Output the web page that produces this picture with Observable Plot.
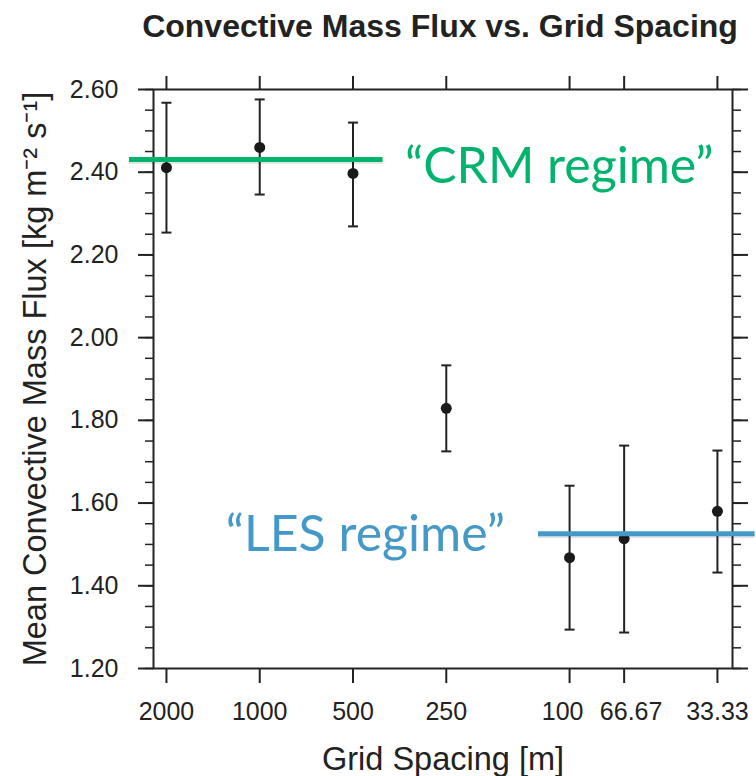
<!DOCTYPE html>
<html>
<head>
<meta charset="utf-8">
<script src="https://cdn.jsdelivr.net/npm/d3@7"></script>
<script src="https://cdn.jsdelivr.net/npm/@observablehq/plot@0.6"></script>
<style>
  html, body { margin: 0; padding: 0; background: white; overflow: hidden; }
  #wrap { width: 756px; height: 776px; position: relative; }
  #title { height: 60px; position: relative; }
  #title div { position: absolute; top: 8px; left: 124px; width: 632px; text-align: center;
    font: bold 32px "Liberation Sans", Arial, sans-serif; line-height: 36px; color: #222; white-space: nowrap; }
</style>
</head>
<body>
<div id="wrap">
  <div id="title"><div>Convective Mass Flux vs. Grid Spacing</div></div>
  <div id="chart"></div>
</div>
<script>
// ---- data ----
const gridSpacing = [2000, 1000, 500, 250, 100, 66.67, 33.33];
const gridLabels  = ["2000", "1000", "500", "250", "100", "66.67", "33.33"];
const meanFlux    = [2.411, 2.460, 2.397, 1.829, 1.468, 1.514, 1.580];
const fluxLow     = [2.254, 2.346, 2.269, 1.725, 1.294, 1.287, 1.432];
const fluxHigh    = [2.568, 2.576, 2.520, 1.933, 1.642, 1.739, 1.727];

const yMajorTicks = [1.2, 1.4, 1.6, 1.8, 2.0, 2.2, 2.4, 2.6];
const yMinorTicks = d3.range(0, 29).map(i => 1.2 + i * 0.05);

// regime annotations
const regimeNames  = ["\u201CCRM regime\u201D", "\u201CLES regime\u201D"];
const regimeFlux   = [2.431, 1.526];
const regimeFrom   = [2632, 126];
const regimeTo     = [400, 25.2];
const regimeLabelX = [340, 1287];
const regimeLabelY = [2.375, 1.485];
const regimeColors = ["#00b46e", "#4499c8"];

const points = gridSpacing.map((g, i) => ({g, label: gridLabels[i], mean: meanFlux[i], lo: fluxLow[i], hi: fluxHigh[i]}));
const regimes = regimeNames.map((n, i) => ({name: n, y: regimeFlux[i], x1: regimeFrom[i], x2: regimeTo[i], lx: regimeLabelX[i], ly: regimeLabelY[i], color: regimeColors[i]}));

const capSymbol = {draw(ctx, size) { const w = Math.sqrt(size / Math.PI); ctx.moveTo(-w, 0); ctx.lineTo(w, 0); }};
const ink = "#222";
const noLabel = () => "";
const tickText = {x: "g", text: "label", frameAnchor: "bottom", lineAnchor: "top", dy: 34, fontSize: 25, fill: ink};

const chart = Plot.plot({
  width: 756,
  height: 716,
  marginTop: 29,
  marginBottom: 108,
  marginLeft: 153,
  marginRight: 24,
  style: {fontFamily: "'Liberation Sans', Arial, sans-serif", fontSize: "25px", color: ink, background: "white"},
  x: {type: "log", domain: [2202, 29.8], axis: null},
  y: {domain: [1.2, 2.6], axis: null},
  marks: [
    // minor y ticks (both sides)
    Plot.axisY({anchor: "left", ticks: yMinorTicks, tickSize: 8, tickFormat: noLabel, label: null, stroke: ink, strokeWidth: 1.5}),
    Plot.axisY({anchor: "right", ticks: yMinorTicks, tickSize: 8, tickFormat: noLabel, label: null, stroke: ink, strokeWidth: 1.5}),
    // major y ticks
    Plot.axisY({anchor: "left", ticks: yMajorTicks, tickSize: 15, tickPadding: 20, tickFormat: d3.format(".2f"), label: null, stroke: ink, strokeWidth: 2, fontSize: 25}),
    Plot.axisY({anchor: "right", ticks: yMajorTicks, tickSize: 15, tickFormat: noLabel, label: null, stroke: ink, strokeWidth: 2}),
    // x ticks
    Plot.axisX({anchor: "bottom", ticks: gridSpacing, tickSize: 15, tickFormat: noLabel, label: null, stroke: ink, strokeWidth: 2}),
    Plot.axisX({anchor: "top", ticks: gridSpacing, tickSize: 14, tickFormat: noLabel, label: null, stroke: ink, strokeWidth: 2}),
    // x tick labels (the two crowded ones nudged apart, as in the original)
    Plot.text(points, {...tickText, filter: d => d.label !== "100" && d.label !== "66.67"}),
    Plot.text(points, {...tickText, filter: d => d.label === "100", dx: -7}),
    Plot.text(points, {...tickText, filter: d => d.label === "66.67", dx: 7}),
    Plot.frame({stroke: ink, strokeWidth: 2}),
    // axis titles
    Plot.text(["Mean Convective Mass Flux [kg m\u207B\u00B2 s\u207B\u00B9]"], {frameAnchor: "left", text: d => d, textAnchor: "middle", rotate: -90, dx: -118, fontSize: 32.5, fill: ink}),
    Plot.text(["Grid Spacing [m]"], {frameAnchor: "bottom", text: d => d, textAnchor: "middle", dy: 101, lineAnchor: "bottom", fontSize: 32.5, fill: ink}),
    // error bars
    Plot.ruleX(points, {x: "g", y1: "lo", y2: "hi", stroke: ink, strokeWidth: 2}),
    Plot.dot(points, {x: "g", y: "lo", symbol: capSymbol, r: 5, stroke: ink, strokeWidth: 2, fill: "none"}),
    Plot.dot(points, {x: "g", y: "hi", symbol: capSymbol, r: 5, stroke: ink, strokeWidth: 2, fill: "none"}),
    Plot.dot(points, {x: "g", y: "mean", r: 5.5, fill: "#1a1a1a", stroke: "none"}),
    // regime lines with soft shadow
    Plot.ruleY(regimes, {y: "y", x1: "x1", x2: "x2", stroke: "#000", strokeOpacity: 0.1, strokeWidth: 5, dy: 2}),
    Plot.ruleY(regimes, {y: "y", x1: "x1", x2: "x2", stroke: "color", strokeWidth: 5}),
    Plot.text(regimes, {x: "lx", y: "ly", text: "name", fill: "color", textAnchor: "start", lineAnchor: "bottom", fontSize: 50, fontFamily: "Lato, 'Open Sans', sans-serif"})
  ]
});
document.getElementById("chart").appendChild(chart);
</script>
</body>
</html>
